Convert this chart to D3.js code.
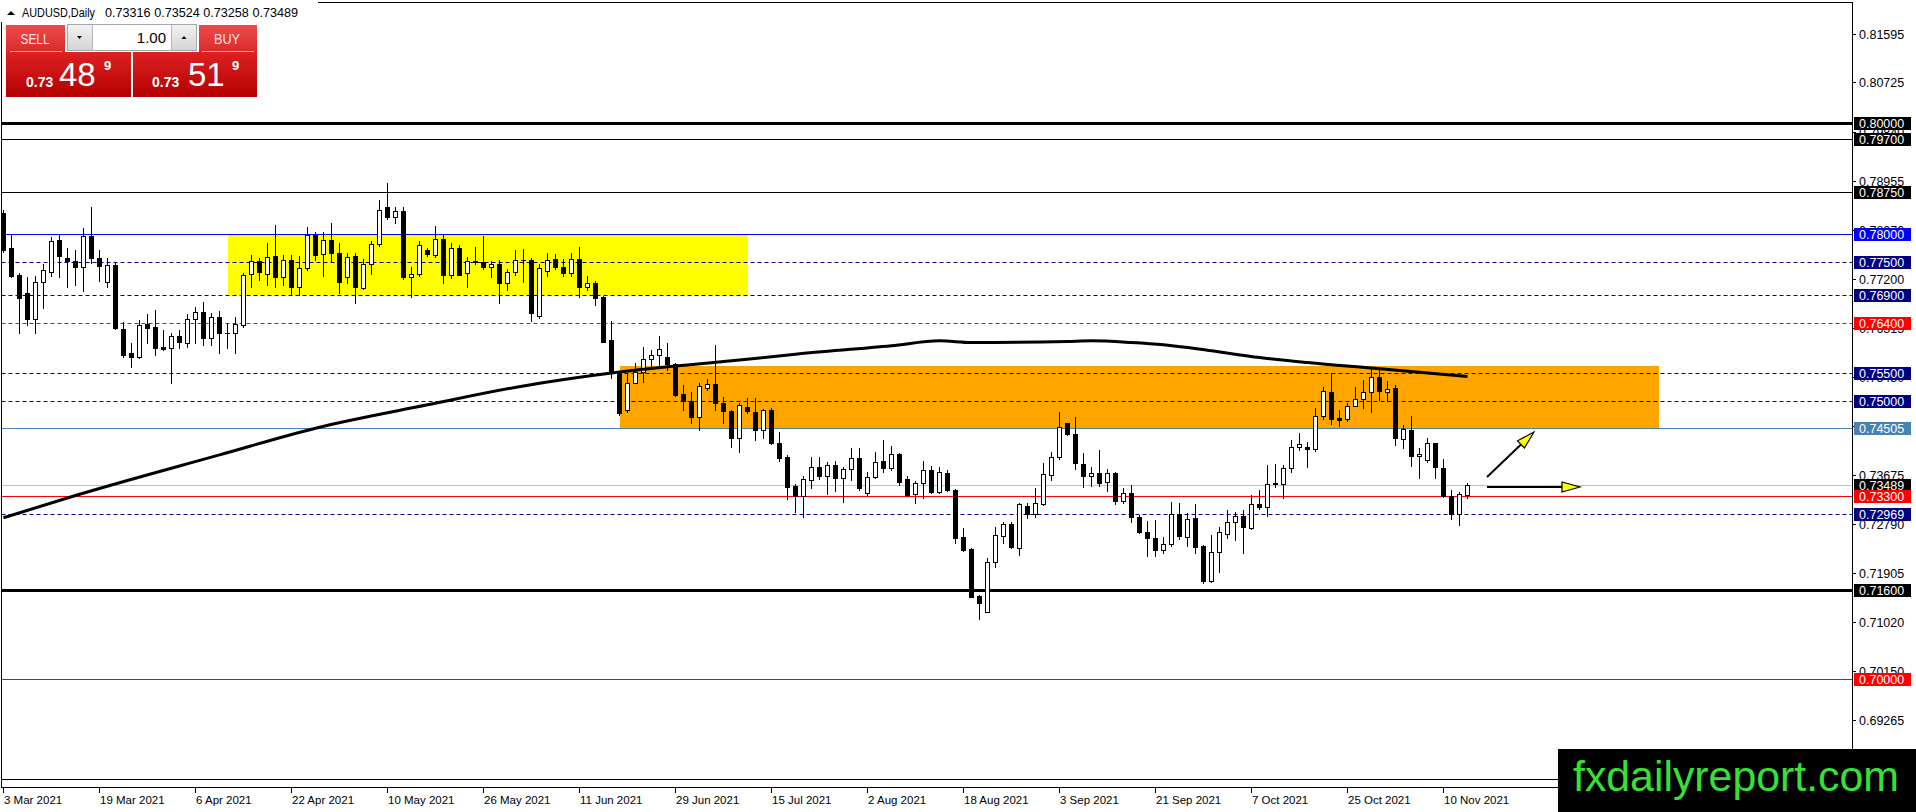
<!DOCTYPE html>
<html>
<head>
<meta charset="utf-8">
<script src="https://cdn.jsdelivr.net/npm/d3@7"></script>
<style>
html, body { margin: 0; padding: 0; background: #fff; overflow: hidden; }
svg { display: block; }
</style>
</head>
<body>
<div class="plot"></div>
<script>
const width = 1916;
const height = 812;

// daily bars, index 0 = 3 Mar 2021 (weekdays only), last = 15 Nov 2021
const opens = [0.78372,0.77743,0.77264,0.76934,0.76479,0.77132,0.77324,0.77893,0.77563,0.77521,0.77414,0.77965,0.77563,0.77144,0.77444,0.76287,0.75856,0.75796,0.76383,0.76323,0.75964,0.75958,0.76168,0.76048,0.76467,0.76605,0.76126,0.76515,0.76228,0.76216,0.76365,0.77276,0.77515,0.77282,0.77605,0.77234,0.77533,0.77042,0.77384,0.77983,0.77635,0.77893,0.77653,0.77222,0.77605,0.77036,0.77456,0.77815,0.78480,0.78300,0.78414,0.77234,0.77276,0.77713,0.77617,0.77905,0.77258,0.77743,0.77306,0.77497,0.77492,0.77414,0.77462,0.77114,0.77324,0.77533,0.77533,0.76527,0.77342,0.77545,0.77408,0.77294,0.77545,0.77042,0.77114,0.76874,0.76096,0.75497,0.74838,0.75329,0.75527,0.75749,0.75820,0.75784,0.75665,0.75125,0.75000,0.74706,0.75227,0.75299,0.74958,0.74826,0.74329,0.74885,0.74807,0.74478,0.74837,0.74238,0.73999,0.73472,0.73298,0.73580,0.73819,0.73658,0.73849,0.73622,0.73771,0.73969,0.73340,0.73628,0.73921,0.73801,0.74047,0.73592,0.73322,0.73520,0.73759,0.73370,0.73699,0.73394,0.72555,0.72340,0.71495,0.71214,0.72112,0.72579,0.72783,0.72364,0.73112,0.72963,0.73148,0.73670,0.73999,0.74598,0.74400,0.73861,0.73658,0.73700,0.73550,0.73700,0.73208,0.73340,0.72921,0.72651,0.72531,0.72322,0.72430,0.72969,0.72561,0.72891,0.72394,0.71770,0.72280,0.72603,0.72831,0.72933,0.72723,0.73148,0.73088,0.73500,0.73500,0.73789,0.74167,0.74167,0.74131,0.74730,0.75167,0.74688,0.74670,0.74915,0.75029,0.75167,0.75436,0.75155,0.75227,0.74316,0.74478,0.74011,0.73939,0.74238,0.73789,0.73292,0.72963,0.73316];
const highs = [0.78432,0.77983,0.77294,0.77234,0.77246,0.77456,0.77953,0.77983,0.77743,0.77713,0.78102,0.78492,0.77713,0.77563,0.77474,0.76425,0.76036,0.76455,0.76563,0.76635,0.76275,0.76216,0.76275,0.76563,0.76695,0.76785,0.76575,0.76617,0.76407,0.76515,0.77294,0.77623,0.77575,0.77833,0.78162,0.77623,0.77623,0.77605,0.78132,0.78043,0.78043,0.78192,0.77833,0.77653,0.77653,0.77545,0.77875,0.78612,0.78923,0.78480,0.78492,0.77414,0.77875,0.77743,0.78144,0.78001,0.77833,0.77803,0.77581,0.77761,0.77971,0.77521,0.77533,0.77366,0.77713,0.77731,0.77563,0.77456,0.77653,0.77641,0.77545,0.77653,0.77761,0.77246,0.77156,0.76887,0.76443,0.75527,0.75497,0.75677,0.75976,0.75916,0.76168,0.76036,0.75689,0.75287,0.75167,0.75317,0.75389,0.76006,0.75078,0.74838,0.74958,0.75047,0.75047,0.74849,0.74879,0.74448,0.74029,0.73508,0.73652,0.73999,0.73999,0.73909,0.73921,0.73819,0.74160,0.74148,0.73730,0.74089,0.74298,0.74190,0.74059,0.73658,0.73568,0.73921,0.73831,0.73819,0.73759,0.73412,0.72711,0.72352,0.71513,0.72184,0.72741,0.72831,0.72831,0.73172,0.73172,0.73430,0.73891,0.74089,0.74796,0.74610,0.74706,0.74059,0.73819,0.74119,0.73771,0.73730,0.73430,0.73490,0.72951,0.72843,0.72861,0.72561,0.73178,0.73160,0.72981,0.73148,0.72412,0.72591,0.72741,0.73041,0.73011,0.73041,0.73310,0.73400,0.73849,0.73861,0.73849,0.74298,0.74418,0.74268,0.74867,0.75245,0.75496,0.74837,0.74969,0.75257,0.75377,0.75568,0.75568,0.75359,0.75287,0.74568,0.74730,0.74148,0.74328,0.74250,0.73951,0.73400,0.73370,0.73524];
const lows = [0.77683,0.77234,0.76216,0.76365,0.76216,0.76677,0.77246,0.77234,0.77054,0.77084,0.76982,0.77474,0.77156,0.77042,0.76287,0.75796,0.75617,0.75766,0.76036,0.75826,0.75916,0.75317,0.75946,0.75976,0.76048,0.76006,0.76006,0.75868,0.75946,0.75856,0.76335,0.77054,0.77174,0.77084,0.77054,0.77084,0.76904,0.76904,0.77354,0.77533,0.77246,0.77521,0.76946,0.77114,0.76755,0.77006,0.77276,0.77785,0.78264,0.78192,0.77186,0.76874,0.77246,0.77605,0.77581,0.77114,0.77216,0.77258,0.77054,0.77468,0.77366,0.77222,0.76767,0.76994,0.77258,0.77144,0.76443,0.76497,0.77246,0.77378,0.77246,0.77246,0.76874,0.76994,0.76725,0.76060,0.75407,0.74748,0.74808,0.75317,0.75347,0.75617,0.75587,0.75557,0.75089,0.74838,0.74598,0.74478,0.75197,0.74838,0.74598,0.74179,0.74089,0.74778,0.74298,0.74328,0.74232,0.73927,0.73232,0.73011,0.72909,0.73442,0.73598,0.73322,0.73382,0.73190,0.73580,0.73400,0.73310,0.73610,0.73717,0.73759,0.73490,0.73298,0.73172,0.73250,0.73352,0.73340,0.73382,0.72441,0.72310,0.71471,0.71076,0.71214,0.72022,0.72441,0.72352,0.72232,0.72891,0.72921,0.73130,0.73580,0.73957,0.74388,0.73771,0.73460,0.73472,0.73472,0.73388,0.73148,0.73172,0.72831,0.72633,0.72214,0.72220,0.72262,0.72400,0.72513,0.72394,0.72274,0.71723,0.71752,0.71932,0.72531,0.72501,0.72274,0.72705,0.73052,0.72939,0.73460,0.73250,0.73729,0.74119,0.73807,0.74107,0.74670,0.74586,0.74550,0.74646,0.74909,0.74867,0.74807,0.75017,0.75005,0.74208,0.74148,0.73831,0.73622,0.73909,0.73622,0.73280,0.72879,0.72771,0.73258];
const closes = [0.77713,0.77246,0.76857,0.76479,0.77132,0.77354,0.77875,0.77605,0.77521,0.77414,0.77965,0.77563,0.77432,0.77438,0.76305,0.75826,0.75796,0.76365,0.76317,0.75946,0.75940,0.76168,0.76066,0.76467,0.76605,0.76126,0.76515,0.76216,0.76216,0.76383,0.77258,0.77515,0.77324,0.77581,0.77234,0.77533,0.77054,0.77396,0.77983,0.77623,0.77893,0.77653,0.77144,0.77593,0.77042,0.77456,0.77815,0.78432,0.78300,0.78408,0.77234,0.77276,0.77797,0.77635,0.77905,0.77258,0.77743,0.77264,0.77515,0.77515,0.77414,0.77456,0.77114,0.77324,0.77527,0.77530,0.76575,0.77384,0.77533,0.77414,0.77294,0.77545,0.77054,0.77114,0.76857,0.76066,0.75497,0.74778,0.75329,0.75527,0.75749,0.75826,0.75928,0.75665,0.75107,0.75000,0.74718,0.75275,0.75299,0.74958,0.74826,0.74341,0.74922,0.74813,0.74478,0.74837,0.74238,0.73981,0.73460,0.73298,0.73592,0.73807,0.73658,0.73849,0.73622,0.73777,0.73969,0.73442,0.73628,0.73909,0.73801,0.74041,0.73550,0.73310,0.73520,0.73759,0.73370,0.73717,0.73394,0.72543,0.72322,0.71483,0.71375,0.72112,0.72591,0.72783,0.72370,0.73142,0.72969,0.73160,0.73682,0.73999,0.74526,0.74400,0.73879,0.73658,0.73700,0.73532,0.73700,0.73208,0.73340,0.72921,0.72651,0.72531,0.72322,0.72424,0.72969,0.72579,0.72879,0.72382,0.71770,0.72280,0.72639,0.72831,0.72933,0.72729,0.73142,0.73088,0.73500,0.73518,0.73789,0.74167,0.74221,0.74131,0.74736,0.75185,0.74670,0.74658,0.74915,0.75029,0.75167,0.75436,0.75179,0.75215,0.74328,0.74496,0.74011,0.74041,0.74238,0.73819,0.73292,0.72963,0.73322,0.73489];

// moving average, read at a few bars
const maBars = [0, 9, 27, 39, 53, 65, 77, 91, 99, 111, 117, 121, 133, 136, 141, 145, 151, 157, 163, 171, 183];
const maValues = [0.7290, 0.7330, 0.7403, 0.7451, 0.7493, 0.7527, 0.7552, 0.7572, 0.7584, 0.7599, 0.7608, 0.7605, 0.7607, 0.7608, 0.7605, 0.7601, 0.7590, 0.7578, 0.7569, 0.7559, 0.7544];

// time labels, one every 12 bars
const dateLabels = ["3 Mar 2021", "19 Mar 2021", "6 Apr 2021", "22 Apr 2021", "10 May 2021", "26 May 2021", "11 Jun 2021", "29 Jun 2021", "15 Jul 2021", "2 Aug 2021", "18 Aug 2021", "3 Sep 2021", "21 Sep 2021", "7 Oct 2021", "25 Oct 2021", "10 Nov 2021"];
const priceTicks = [0.81595, 0.80725, 0.79840, 0.78955, 0.78070, 0.77200, 0.76315, 0.75430, 0.74545, 0.73675, 0.72790, 0.71905, 0.71020, 0.70150, 0.69265];

// horizontal levels
const levelPrices = [0.80000, 0.79700, 0.78750, 0.78000, 0.77500, 0.76900, 0.76400, 0.75500, 0.75000, 0.74505, 0.73489, 0.73300, 0.72969, 0.71600, 0.70000];

// zones (bar index / price)
const zoneStart = [28, 77];
const zoneEnd = [93, 207];
const zoneTop = [0.7798, 0.7562];
const zoneBottom = [0.7690, 0.74505];

// arrows (bar index, price)
const arrowFrom = [[185.44, 0.73633], [185.44, 0.73453]];
const arrowTo = [[191.31, 0.74442], [197.06, 0.73453]];

const header = ["AUDUSD,Daily", "0.73316 0.73524 0.73258 0.73489"];

const svg = d3
    .select(".plot")
    .append("svg")
    .attr("width", width)
    .attr("height", height)
    .style("font-family", "'Liberation Sans', Arial, sans-serif");

const x = d3.scaleLinear().domain([0, 183]).range([3.5, 1467.5]);
const y = d3.scaleLinear().domain([0.81595, 0.69265]).range([34, 720]);
const py = (p) => Math.round(y(p)) + 0.5;

svg.append("rect").attr("width", width).attr("height", height).attr("fill", "#fff");

// zones behind the bars
const zoneColors = ["#ffff00", "#ffa500"];
svg.append("g")
    .selectAll("rect")
    .data(zoneTop)
    .join("rect")
    .attr("x", (d, i) => Math.round(x(zoneStart[i])))
    .attr("y", (d, i) => Math.round(y(d)))
    .attr("width", (d, i) => Math.round(x(zoneEnd[i])) - Math.round(x(zoneStart[i])))
    .attr("height", (d, i) => Math.round(y(zoneBottom[i])) - Math.round(y(d)))
    .attr("fill", (d, i) => zoneColors[i]);

// level styles in the same order as levelPrices
const levelStyle = [
    { c: "#000000", w: 3, box: "#000000" },
    { c: "#000000", w: 1, box: "#000000" },
    { c: "#000000", w: 1, box: "#000000" },
    { c: "#0000ff", w: 1, box: "#0000ff" },
    { c: "#000080", w: 1, dash: "4,3", box: "#000080" },
    { c: "#000080", w: 1, dash: "4,3", box: "#000080" },
    { c: "#ff0000", w: 1, dash: "4,3", box: "#ff0000" },
    { c: "#000080", w: 1, dash: "4,3", box: "#000080" },
    { c: "#000080", w: 1, dash: "4,3", box: "#000080" },
    { c: "#4682b4", w: 1, box: "#4682b4" },
    { c: "#c0c0c0", w: 1, box: "#000000" },
    { c: "#ff0000", w: 1, box: "#ff0000" },
    { c: "#000080", w: 1, dash: "4,3", box: "#000080" },
    { c: "#000000", w: 3, box: "#000000" },
    { c: "#ff0000", w: 1, box: "#ff0000" },
];

// price scale ticks (labels partly hidden by level boxes later)
const axisR = svg.append("g");
axisR.selectAll("line")
    .data(priceTicks)
    .join("line")
    .attr("x1", 1852)
    .attr("x2", 1856)
    .attr("y1", (d) => py(d))
    .attr("y2", (d) => py(d))
    .attr("stroke", "#000");
axisR.selectAll("text")
    .data(priceTicks)
    .join("text")
    .attr("x", 1859)
    .attr("y", (d) => Math.round(y(d)) + 5)
    .attr("font-size", "12.5px")
    .attr("fill", "#000")
    .text((d) => d.toFixed(5));

svg.append("g")
    .selectAll("line")
    .data(levelPrices)
    .join("line")
    .attr("x1", 1.5)
    .attr("x2", 1852)
    .attr("y1", (d) => py(d))
    .attr("y2", (d) => py(d))
    .attr("stroke", (d, i) => levelStyle[i].c)
    .attr("stroke-width", (d, i) => levelStyle[i].w)
    .attr("stroke-dasharray", (d, i) => levelStyle[i].dash || null);

// candles
const bars = d3.range(opens.length);
const candles = svg.append("g").attr("shape-rendering", "crispEdges");
candles.selectAll("line")
    .data(bars)
    .join("line")
    .attr("x1", (i) => x(i))
    .attr("x2", (i) => x(i))
    .attr("y1", (i) => Math.round(y(highs[i])))
    .attr("y2", (i) => Math.round(y(lows[i])) + 1)
    .attr("stroke", "#000");
candles.selectAll("rect")
    .data(bars)
    .join("rect")
    .each(function (i) {
        const up = closes[i] >= opens[i];
        const top = Math.round(y(Math.max(opens[i], closes[i])));
        const bot = Math.round(y(Math.min(opens[i], closes[i])));
        const r = d3.select(this);
        if (up) {
            r.attr("x", x(i) - 2)
                .attr("y", top + 0.5)
                .attr("width", 4)
                .attr("height", Math.max(1, bot - top))
                .attr("fill", "#fff")
                .attr("stroke", "#000");
        } else {
            r.attr("x", x(i) - 2.5)
                .attr("y", top)
                .attr("width", 5)
                .attr("height", Math.max(1, bot - top + 1))
                .attr("fill", "#000");
        }
    });

// moving average
svg.append("path")
    .datum(maBars)
    .attr("d", d3.line().x((d) => x(d)).y((d, i) => y(maValues[i])).curve(d3.curveMonotoneX))
    .attr("fill", "none")
    .attr("stroke", "#000")
    .attr("stroke-width", 3);

// arrows
const arrows = svg.append("g");
arrowFrom.forEach((a, k) => {
    const x0 = x(a[0]), y0 = y(a[1]);
    const x1 = x(arrowTo[k][0]), y1 = y(arrowTo[k][1]);
    const len = Math.hypot(x1 - x0, y1 - y0);
    const ux = (x1 - x0) / len, uy = (y1 - y0) / len;
    const bx = x1 - ux * 18, by = y1 - uy * 18;
    arrows.append("line")
        .attr("x1", x0).attr("y1", y0).attr("x2", bx).attr("y2", by)
        .attr("stroke", "#000").attr("stroke-width", 2);
    arrows.append("path")
        .attr("d", `M${x1},${y1}L${bx - uy * 5},${by + ux * 5}L${bx + uy * 5},${by - ux * 5}Z`)
        .attr("fill", "#ffff00")
        .attr("stroke", "#000")
        .attr("stroke-width", 1.2);
});

// chart frame
const frame = svg.append("g").attr("stroke", "#000").attr("fill", "none");
frame.append("line").attr("x1", 0).attr("x2", 1853).attr("y1", 2.5).attr("y2", 2.5);
frame.append("line").attr("x1", 1.5).attr("x2", 1.5).attr("y1", 2).attr("y2", 788);
frame.append("line").attr("x1", 1852.5).attr("x2", 1852.5).attr("y1", 2).attr("y2", 790);
frame.append("line").attr("x1", 1).attr("x2", 1853).attr("y1", 779.5).attr("y2", 779.5);
frame.append("line").attr("x1", 1).attr("x2", 1853).attr("y1", 787.5).attr("y2", 787.5);

// level boxes on the price scale
const boxes = svg.append("g");
boxes.selectAll("rect")
    .data(levelPrices)
    .join("rect")
    .attr("x", 1854)
    .attr("y", (d) => Math.round(y(d)) - 6)
    .attr("width", 57)
    .attr("height", 13)
    .attr("fill", (d, i) => levelStyle[i].box);
boxes.selectAll("text")
    .data(levelPrices)
    .join("text")
    .attr("x", 1859)
    .attr("y", (d) => Math.round(y(d)) + 5)
    .attr("font-size", "12.5px")
    .attr("fill", "#fff")
    .text((d) => d.toFixed(5));

// time scale
const axisB = svg.append("g");
axisB.selectAll("line")
    .data(dateLabels)
    .join("line")
    .attr("x1", (d, i) => Math.floor(x(i * 12)) + 0.5)
    .attr("x2", (d, i) => Math.floor(x(i * 12)) + 0.5)
    .attr("y1", 788)
    .attr("y2", 793)
    .attr("stroke", "#000");
axisB.selectAll("text")
    .data(dateLabels)
    .join("text")
    .attr("x", (d, i) => Math.floor(x(i * 12)) + 1)
    .attr("y", 804)
    .attr("font-size", "11.5px")
    .attr("fill", "#000")
    .text((d) => d);

// header
svg.append("rect").attr("x", 0).attr("y", 0).attr("width", 318).attr("height", 22).attr("fill", "#fff");
svg.append("path").attr("d", "M7,15L11,11L15,15Z").attr("fill", "#000");
svg.append("text").attr("x", 22).attr("y", 17).attr("font-size", "12px")
    .attr("textLength", 73).attr("lengthAdjust", "spacingAndGlyphs").text(header[0]);
svg.append("text").attr("x", 105).attr("y", 17).attr("font-size", "12px")
    .attr("textLength", 193).attr("lengthAdjust", "spacingAndGlyphs").text(header[1]);

// one-click trading panel
const defs = svg.append("defs");
const g1 = defs.append("linearGradient").attr("id", "btnTop").attr("x1", 0).attr("x2", 0).attr("y1", 0).attr("y2", 1);
g1.append("stop").attr("offset", 0).attr("stop-color", "#ee4b4b");
g1.append("stop").attr("offset", 1).attr("stop-color", "#d92a2a");
const g2 = defs.append("linearGradient").attr("id", "btnBot").attr("x1", 0).attr("x2", 0).attr("y1", 0).attr("y2", 1);
g2.append("stop").attr("offset", 0).attr("stop-color", "#dc2222");
g2.append("stop").attr("offset", 1).attr("stop-color", "#b40000");
const g3 = defs.append("linearGradient").attr("id", "btnGray").attr("x1", 0).attr("x2", 0).attr("y1", 0).attr("y2", 1);
g3.append("stop").attr("offset", 0).attr("stop-color", "#f2f2f2");
g3.append("stop").attr("offset", 1).attr("stop-color", "#d4d4d4");

const panel = svg.append("g");
panel.append("rect").attr("x", 6).attr("y", 25).attr("width", 59).attr("height", 27).attr("fill", "url(#btnTop)");
panel.append("rect").attr("x", 199).attr("y", 25).attr("width", 58).attr("height", 27).attr("fill", "url(#btnTop)");
panel.append("rect").attr("x", 6).attr("y", 52).attr("width", 125).attr("height", 45).attr("fill", "url(#btnBot)");
panel.append("rect").attr("x", 133).attr("y", 52).attr("width", 124).attr("height", 45).attr("fill", "url(#btnBot)");
panel.append("line").attr("x1", 10).attr("x2", 62).attr("y1", 51.5).attr("y2", 51.5).attr("stroke", "#f4a0a0");
panel.append("line").attr("x1", 202).attr("x2", 254).attr("y1", 51.5).attr("y2", 51.5).attr("stroke", "#f4a0a0");
panel.append("rect").attr("x", 67.5).attr("y", 24.5).attr("width", 129).attr("height", 26).attr("fill", "#fff").attr("stroke", "#a8a8a8");
panel.append("rect").attr("x", 68).attr("y", 25).attr("width", 24).attr("height", 25).attr("fill", "url(#btnGray)");
panel.append("rect").attr("x", 172).attr("y", 25).attr("width", 24).attr("height", 25).attr("fill", "url(#btnGray)");
panel.append("line").attr("x1", 92.5).attr("x2", 92.5).attr("y1", 25).attr("y2", 50).attr("stroke", "#b8b8b8");
panel.append("line").attr("x1", 171.5).attr("x2", 171.5).attr("y1", 25).attr("y2", 50).attr("stroke", "#b8b8b8");
panel.append("path").attr("d", "M77,36L82,36L79.5,39Z").attr("fill", "#000");
panel.append("path").attr("d", "M181.5,39L186.5,39L184,36Z").attr("fill", "#000");
panel.append("text").attr("x", 166).attr("y", 43).attr("text-anchor", "end").attr("font-size", "15px").attr("fill", "#000").text("1.00");
panel.append("text").attr("x", 35).attr("y", 44).attr("text-anchor", "middle").attr("font-size", "14px")
    .attr("fill", "#ffe4e4").attr("textLength", 29).attr("lengthAdjust", "spacingAndGlyphs").text("SELL");
panel.append("text").attr("x", 227).attr("y", 44).attr("text-anchor", "middle").attr("font-size", "14px")
    .attr("fill", "#ffe4e4").attr("textLength", 26).attr("lengthAdjust", "spacingAndGlyphs").text("BUY");

const quotes = [
    { x: 26, big: "48", bx: 59, sx: 104 },
    { x: 152, big: "51", bx: 188, sx: 232 },
];
quotes.forEach((q) => {
    panel.append("text").attr("x", q.x).attr("y", 87).attr("font-size", "14px").attr("font-weight", "bold").attr("fill", "#fff").text("0.73");
    panel.append("text").attr("x", q.bx).attr("y", 86).attr("font-size", "33px").attr("fill", "#fff").text(q.big);
    panel.append("text").attr("x", q.sx).attr("y", 70).attr("font-size", "13px").attr("font-weight", "bold").attr("fill", "#fff").text("9");
});

// watermark
svg.append("rect").attr("x", 1558).attr("y", 749).attr("width", 358).attr("height", 63).attr("fill", "#000");
svg.append("text").attr("x", 1573).attr("y", 791).attr("font-size", "43px").attr("fill", "#36e036")
    .attr("textLength", 326).attr("lengthAdjust", "spacingAndGlyphs").text("fxdailyreport.com");
</script>
</body>
</html>
